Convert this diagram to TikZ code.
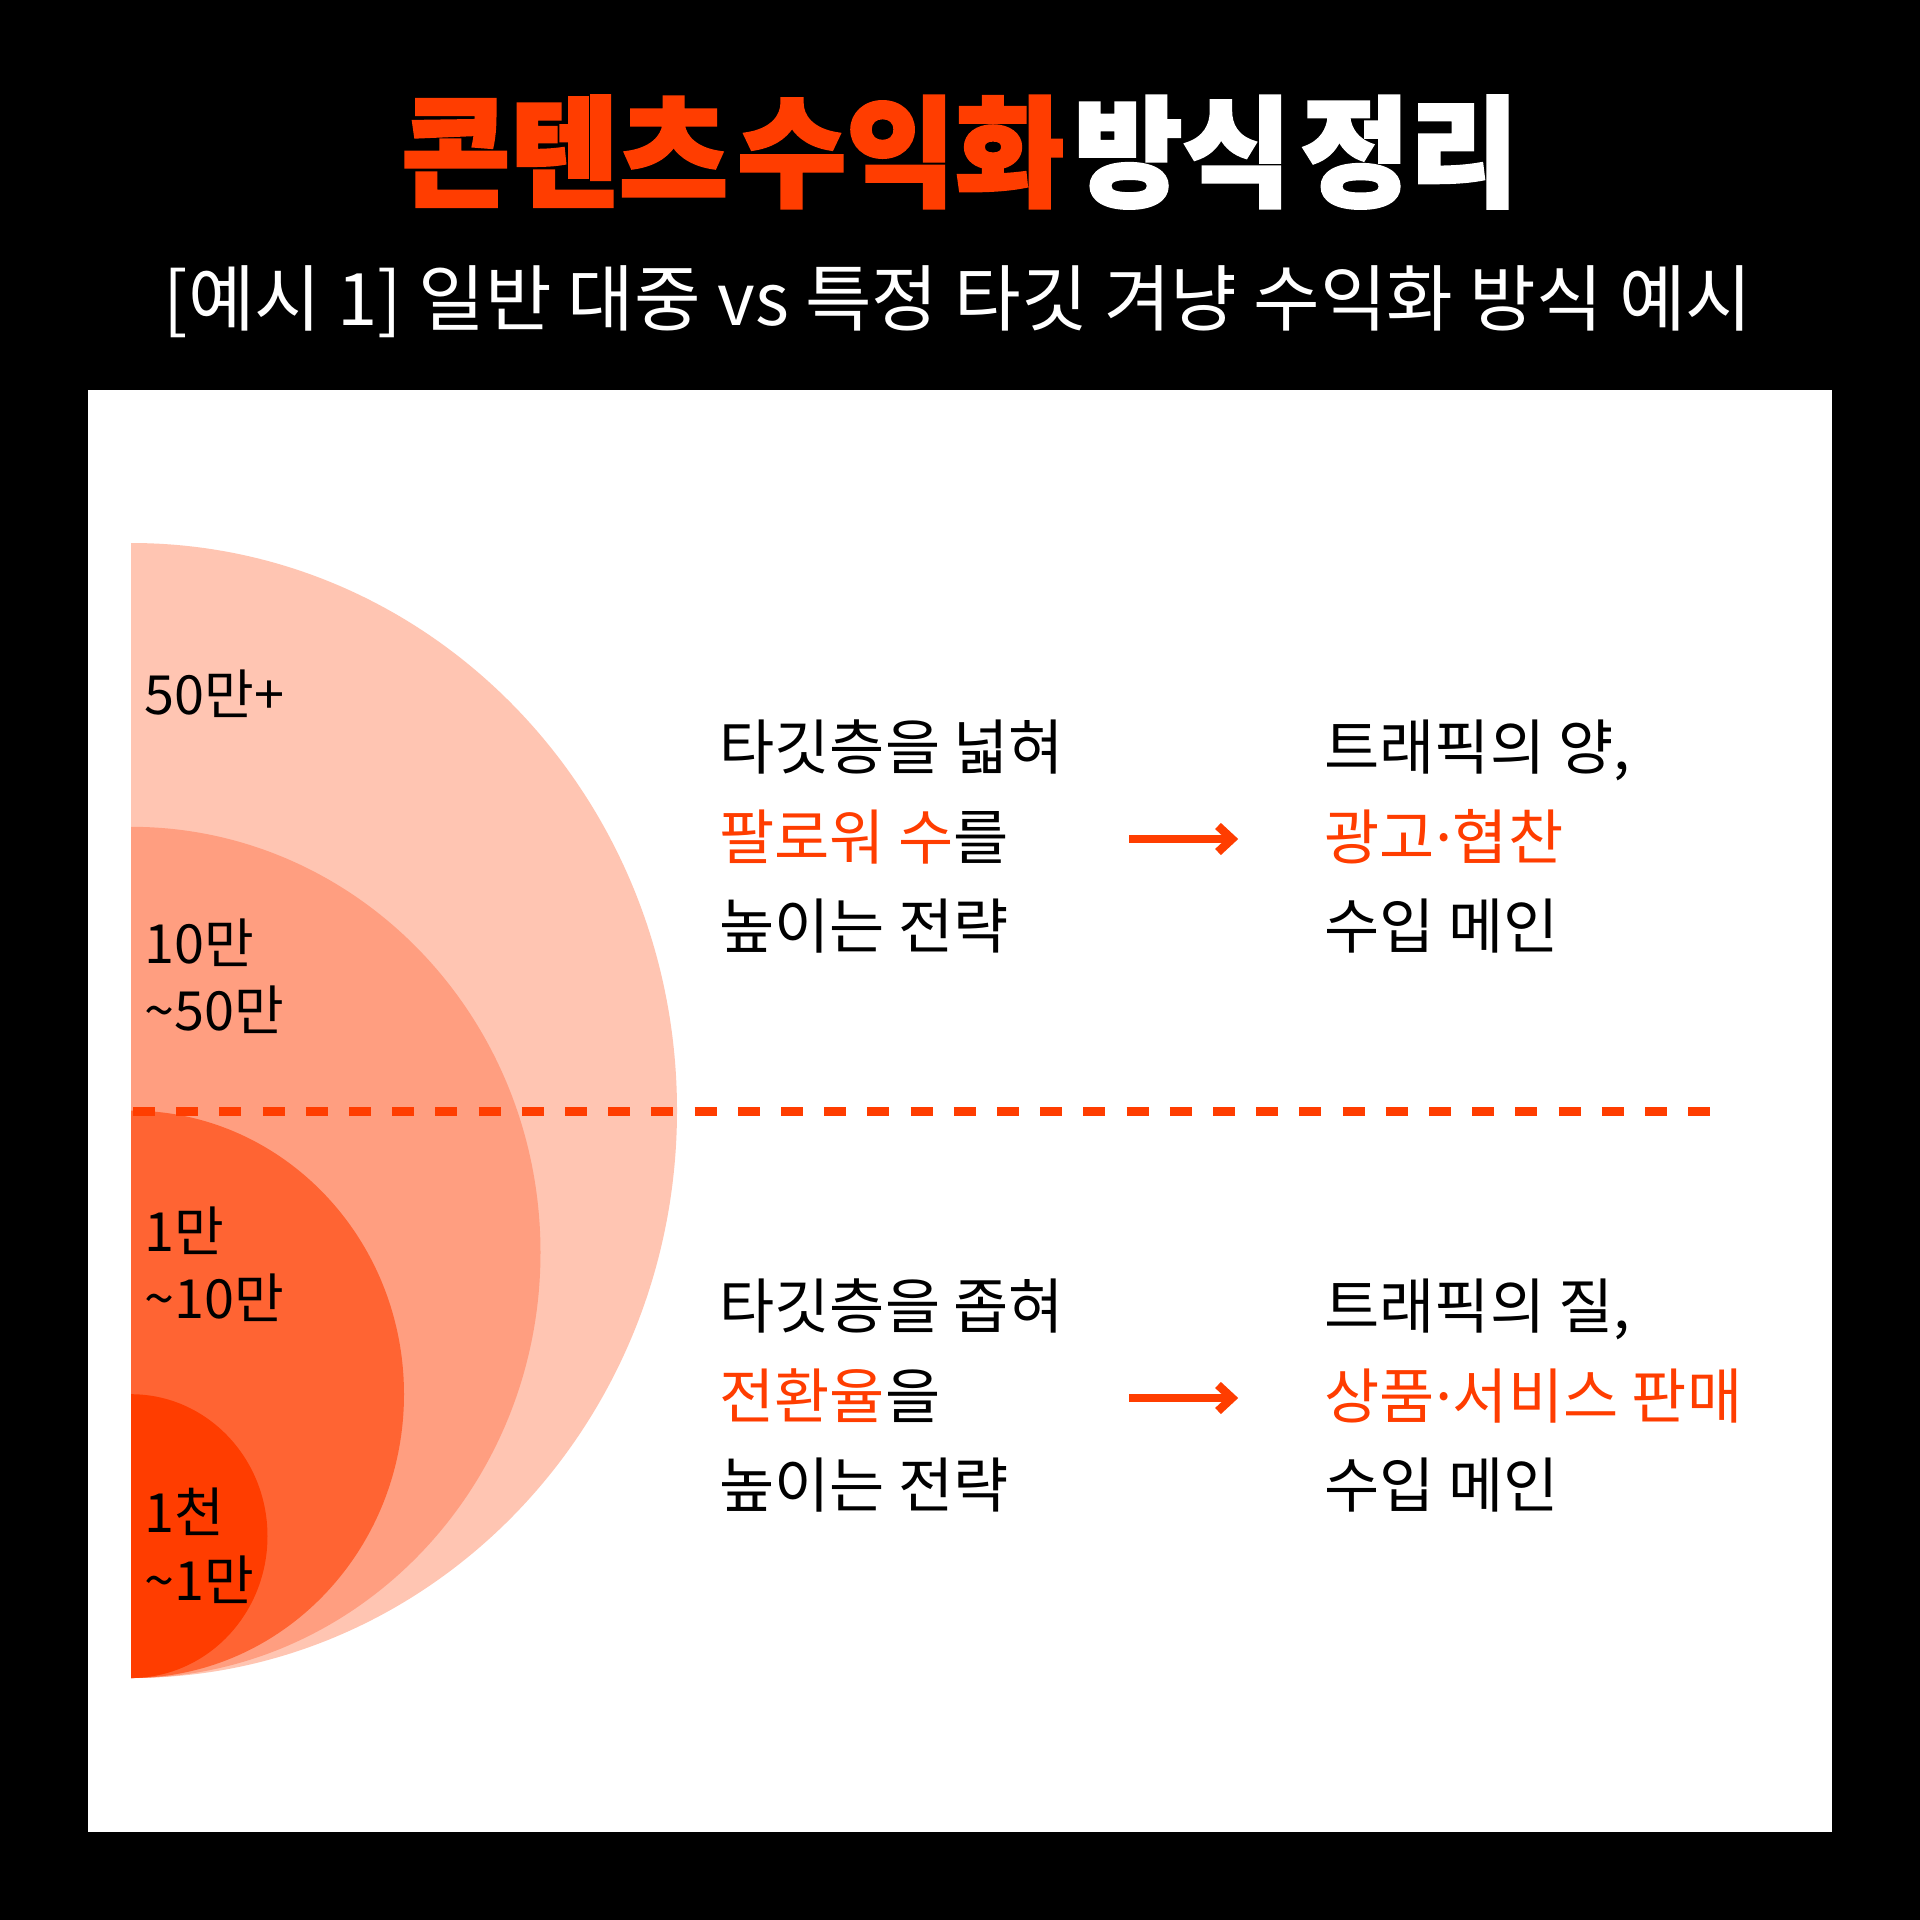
\documentclass[tikz,border=0pt]{standalone}
\usepackage{fontspec}
\usetikzlibrary{calc}
\setmainfont{Noto Sans CJK KR}
\newfontfamily\kr{Noto Sans CJK KR}
\newfontfamily\krtitle{Noto Sans CJK KR}[BoldFeatures={FakeBold=2.5}]
\definecolor{accent}{HTML}{FF3D00}
\definecolor{ring1}{HTML}{FFC5B2}
\definecolor{ring2}{HTML}{FF9E80}
\definecolor{ring3}{HTML}{FF6433}
\definecolor{ring4}{HTML}{FF3D00}
\newcommand{\tightdot}{\kern-0.13em·\kern-0.13em}
\begin{document}
\begin{tikzpicture}[x=0.5pt,y=-0.5pt,
  body/.style={anchor=west, inner sep=0pt, text height=0.8em, text depth=0.2em,
    font=\kr\fontsize{30}{36}\selectfont, text=black},
  lab/.style={anchor=west, inner sep=0pt, text height=0.8em, text depth=0.2em,
    font=\kr\fontsize{27}{32}\selectfont, text=black},
  arrowline/.style={draw=accent, line width=4.2pt},
  arrowhead/.style={draw=accent, line width=4.2pt, miter limit=10}]
\useasboundingbox (0,0) rectangle (1920,1920);
\fill[black] (0,0) rectangle (1920,1920);
\fill[white] (88,390) rectangle (1832,1832);

% title
\node[inner sep=0pt, text=white] (title) at (960,152)
  {\scalebox{1.086}[1.1]{\krtitle\bfseries\fontsize{54.5}{60}\selectfont\spaceskip=0.08em
   {\color{accent}콘텐츠 수익화} 방식 정리}};
\node[inner sep=0pt, text=white, font=\kr\fontsize{36.2}{42}\selectfont] (subtitle) at (958,302)
  {[예시 1] 일반 대중 vs 특정 타깃 겨냥 수익화 방식 예시};

% rings
\coordinate (c1) at (131,1110.5);
\coordinate (c2) at (131,1252.4);
\coordinate (c3) at (131,1394.3);
\coordinate (c4) at (131,1536.1);
\begin{scope}
  \clip (131,0) rectangle (1920,1920);
  \fill[ring1] (c1) ellipse [x radius=546, y radius=567.5];
  \fill[ring2] (c2) ellipse [x radius=409.5, y radius=425.6];
  \fill[ring3] (c3) ellipse [x radius=273, y radius=283.7];
  \fill[ring4] (c4) ellipse [x radius=136.5, y radius=141.9];
\end{scope}

% dashed divider
\coordinate (d1) at (133,1111);
\coordinate (d2) at (1712,1111);
\draw[accent, line width=4.5pt, dash pattern=on 11pt off 10.6pt] (d1) -- (d2);

% ring labels
\node[lab] (l1) at (144,708) {50만+};
\node[lab] (l2a) at (144,957) {10만};
\node[lab] (l2b) at (144,1024) {\textasciitilde50만};
\node[lab] (l3a) at (144,1245) {1만};
\node[lab] (l3b) at (144,1312) {\textasciitilde10만};
\node[lab] (l4a) at (144,1526) {1천};
\node[lab] (l4b) at (144,1594) {\textasciitilde1만};

% upper block
\node[body] (u1) at (719,763) {타깃층을 넓혀};
\node[body] (u2) at (719,853) {{\color{accent}팔로워 수}를};
\node[body] (u3) at (719,942) {높이는 전략};
\node[body] (v1) at (1324,763) {트래픽의 양,};
\node[body] (v2) at (1324,853) {\color{accent}광고\tightdot 협찬};
\node[body] (v3) at (1324,942) {수입 메인};

% lower block
\node[body] (w1) at (719,1322) {타깃층을 좁혀};
\node[body] (w2) at (719,1412) {{\color{accent}전환율}을};
\node[body] (w3) at (719,1501) {높이는 전략};
\node[body] (z1) at (1324,1322) {트래픽의 질,};
\node[body] (z2) at (1324,1412) {\color{accent}상품\tightdot 서비스 판매};
\node[body] (z3) at (1324,1501) {수입 메인};

% arrows
\coordinate (a1s) at (1129,839);
\coordinate (a1e) at (1228,839);
\coordinate (a1t) at (1232,839);
\draw[arrowline] (a1s) -- (a1e);
\draw[arrowhead] ($(a1t)+(-14,-13)$) -- (a1t) -- ($(a1t)+(-14,13)$);
\coordinate (a2s) at (1129,1398);
\coordinate (a2e) at (1228,1398);
\coordinate (a2t) at (1232,1398);
\draw[arrowline] (a2s) -- (a2e);
\draw[arrowhead] ($(a2t)+(-14,-13)$) -- (a2t) -- ($(a2t)+(-14,13)$);
\end{tikzpicture}
\end{document}
